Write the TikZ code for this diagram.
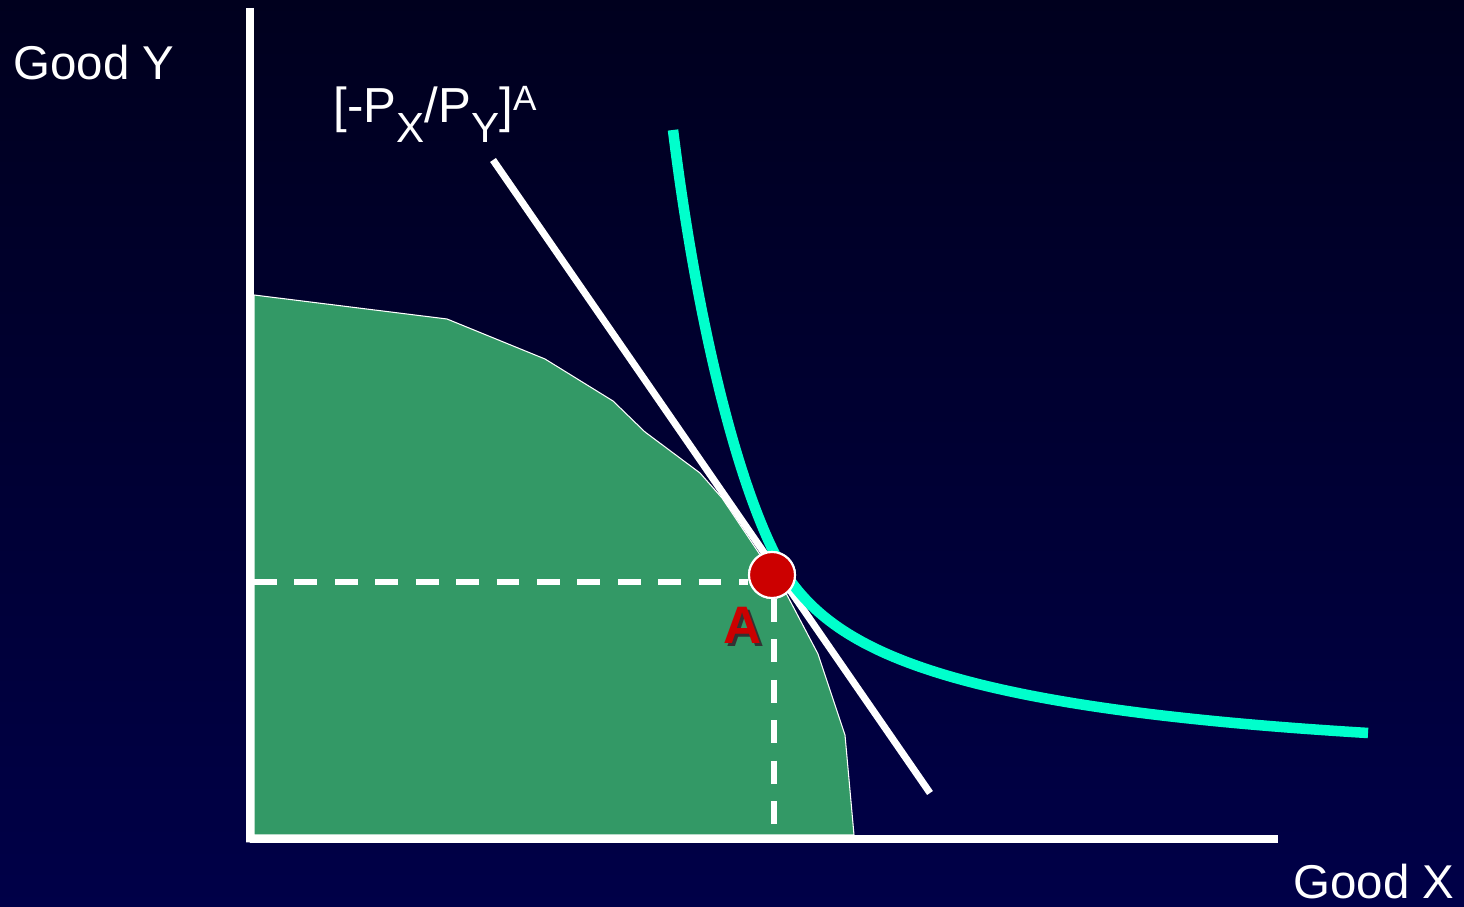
\documentclass[tikz,border=0pt]{standalone}
\usepackage{fontspec}
\setmainfont{Liberation Sans}
\usepackage{xcolor}
\usepackage{tikz}
\usetikzlibrary{positioning,calc}
\definecolor{bgtop}{RGB}{0,0,30}
\definecolor{bgbottom}{RGB}{0,0,72}
\definecolor{ppfgreen}{RGB}{51,153,102}
\definecolor{icteal}{RGB}{0,255,204}
\definecolor{pointred}{RGB}{204,0,0}
\newcommand{\lowidx}[1]{\raisebox{-5.5pt}{\fontsize{12}{14}\selectfont #1}}
\newcommand{\highidx}[1]{\raisebox{3.5pt}{\fontsize{10}{12}\selectfont #1}}
\tikzset{
  axis/.style    ={draw=white, line width=2pt},
  ppf/.style     ={fill=ppfgreen, draw=white, line width=0.3pt},
  budget/.style  ={draw=white, line width=2pt},
  indiff/.style  ={draw=icteal, line width=3pt},
  guide/.style   ={draw=white, line width=1.6pt, dash pattern=on 6.5pt off 5pt},
  optpoint/.style={circle, fill=pointred, draw=white, line width=0.6pt, minimum size=0.46cm, inner sep=0pt},
  axlbl/.style   ={text=white, font=\fontsize{13.5}{16}\selectfont, inner sep=0pt},
  ptlbl/.style   ={font=\fontsize{15}{18}\selectfont\bfseries, inner sep=0pt}
}
\begin{document}
\begin{tikzpicture}
% Background
\useasboundingbox (0,0) rectangle (14.64,9.07);
\shade[top color=bgtop, bottom color=bgbottom] (0,0) rectangle (14.64,9.07);
% Production possibility frontier
\fill[ppf] (2.54,0.72) -- (2.54,6.12) -- (4.47,5.88) -- (5.45,5.48) -- (6.13,5.06) -- (6.45,4.75)
  -- (7.00,4.34) -- (7.22,4.09) -- (7.87,3.12) -- (8.18,2.53) -- (8.45,1.72) -- (8.54,0.72) -- cycle;
% Axes
\coordinate (origin) at (2.50,0.68);
\coordinate (ytop) at (2.50,8.99);
\coordinate (xend) at (12.78,0.68);
\draw[axis] (ytop) -- (origin |- 0,0.645) -- (origin) -- (xend);
% Price line
\coordinate (budtop) at (4.93,7.47);
\coordinate (budbot) at (9.30,1.14);
\draw[budget] (budtop) -- (budbot);
% Indifference curve
\coordinate (ictop) at (6.73,7.77);
\coordinate (icmid) at (7.95,3.20);
\coordinate (icend) at (13.68,1.74);
\draw[indiff] (ictop) .. controls (7.01,5.51) and (7.50,3.78) .. (icmid)
  .. controls (8.50,2.50) and (9.70,1.98) .. (icend);
% Point A and guides
\node[optpoint] (ptA) at (7.72,3.32) {};
\coordinate (yguide) at (2.54,3.25);
\coordinate (xguide) at (7.74,0.72);
\draw[guide] (yguide) -- (ptA.west |- yguide);
\draw[guide] (ptA.south -| xguide) -- (xguide);
\node[optpoint] (ptAtop) at (ptA) {};
\node[ptlbl, text=black!80] (lblAshadow) at (7.46,2.79) {A};
\node[ptlbl, text=pointred] (lblA) at (7.43,2.82) {A};
% Labels
\node[axlbl, anchor=base west] (goody) at (0.13,8.27) {Good Y};
\node[axlbl, anchor=base east] (goodx) at (14.55,0.08) {Good X};
\node[axlbl, font=\fontsize{14}{16}\selectfont, anchor=base west] (slope) at (3.33,7.84)
  {[-P\lowidx{X}/P\lowidx{Y}]\highidx{A}};
\end{tikzpicture}
\end{document}
